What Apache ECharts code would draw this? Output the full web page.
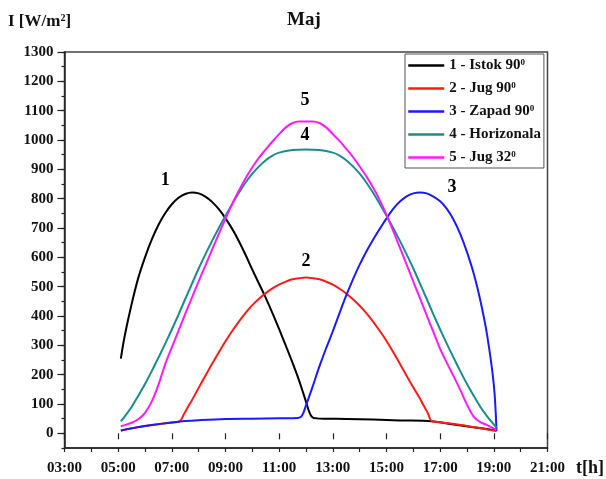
<!DOCTYPE html>
<html>
<head>
<meta charset="utf-8">
<script src="https://cdn.jsdelivr.net/npm/echarts@6/dist/echarts.min.js"></script>
<style>html,body{margin:0;padding:0;background:#fff}#c{width:606px;height:479px}</style>
</head>
<body>
<div id="c"></div>
<script>
// ---------- DATA ----------
const chartTitle = 'Maj';
const seriesNames = ['1 - Istok 90', '2 - Jug 90', '3 - Zapad 90', '4 - Horizonala', '5 - Jug 32'];
const seriesSup = ['0', '0', '0', '', '0'];
const seriesColors = ['#000000', '#ff1a1a', '#1a1aff', '#1a8c8c', '#ff1aff'];

const xTickHours = [3, 5, 7, 9, 11, 13, 15, 17, 19, 21];
const xTickLabels = ['03:00', '05:00', '07:00', '09:00', '11:00', '13:00', '15:00', '17:00', '19:00', '21:00'];
const yTickValues = [0, 100, 200, 300, 400, 500, 600, 700, 800, 900, 1000, 1100, 1200, 1300];

// 1 - Istok 90 (east)
const istokT = [5.1,5.25,5.5,5.75,6.0,6.25,6.5,6.75,7.0,7.25,7.5,7.75,8.0,8.25,8.5,8.75,9.0,9.25,9.5,9.75,10.0,10.25,10.5,10.75,11.0,11.25,11.5,11.75,12.0,12.15,12.25,12.4,12.75,13.5,14.5,15.5,16.68,17.5,18.3,19.1];
const istokV = [255,335,440,530,600,660,710,750,781,803,816,821,818,807,789,764,733,697,655,608,558,510,462,410,355,298,240,178,108,66,54,51,50,49,47,44,41,30,20,10];

// 2 - Jug 90 (south)
const jugT = [5.1,6.0,7.0,7.29,7.45,7.6,7.75,8.0,8.25,8.5,8.75,9.0,9.25,9.5,9.75,10.0,10.25,10.5,10.75,11.0,11.25,11.5,11.75,12.0,12.25,12.5,12.75,13.0,13.25,13.5,13.75,14.0,14.25,14.5,14.75,15.0,15.25,15.5,15.75,16.0,16.25,16.4,16.55,16.68,17.0,18.0,19.1];
const jugV = [10,25,37,41,65,90,113,155,196,237,276,314,349,381,411,437,459,478,494,507,517,525,529,531,529,525,517,507,493,477,457,435,410,381,349,315,277,237,196,156,118,92,67,42,38,25,8];

// 3 - Zapad 90 (west)
const zapadT = [5.1,5.5,6.0,6.5,7.0,7.5,8.0,9.0,10.0,11.0,11.7,11.85,12.0,12.25,12.5,12.75,13.0,13.25,13.5,13.75,14.0,14.25,14.5,14.75,15.0,15.25,15.5,15.75,16.0,16.25,16.5,16.75,17.0,17.25,17.5,17.75,18.0,18.25,18.5,18.75,19.0,19.1];
const zapadV = [10,17,25,31,37,42,45,49,50,51,52,60,95,160,228,290,348,410,470,525,575,620,660,697,733,765,790,808,818,821,818,807,791,765,728,679,618,545,452,335,165,8];

// 4 - Horizonala
const horT = [5.1,5.25,5.5,5.75,6.0,6.25,6.5,6.75,7.0,7.25,7.5,7.75,8.0,8.25,8.5,8.75,9.0,9.25,9.5,9.75,10.0,10.25,10.5,10.75,11.0,11.5,12.0,12.5,13.0,13.25,13.5,13.75,14.0,14.25,14.5,14.75,15.0,15.25,15.5,15.75,16.0,16.25,16.5,16.75,17.0,17.25,17.5,17.75,18.0,18.25,18.5,18.75,19.1];
const horV = [41,58,90,128,168,212,258,305,354,405,458,510,562,610,656,700,742,782,820,855,885,910,931,947,957,966,968,966,957,947,931,910,885,855,820,782,742,700,656,610,562,510,458,405,354,305,258,212,168,128,90,58,20];

// 5 - Jug 32
const jug32T = [5.1,5.25,5.5,5.75,6.0,6.25,6.5,6.75,7.0,7.25,7.5,7.75,8.0,8.25,8.5,8.75,9.0,9.25,9.5,9.75,10.0,10.25,10.5,10.75,11.0,11.25,11.5,11.75,12.0,12.25,12.5,12.75,13.0,13.25,13.5,13.75,14.0,14.25,14.5,14.75,15.0,15.25,15.5,15.75,16.0,16.25,16.5,16.75,17.0,17.25,17.5,17.75,18.0,18.25,18.5,18.75,19.1];
const jug32V = [24,28,36,48,70,108,165,235,293,350,407,463,518,572,626,680,732,782,828,870,907,940,968,995,1020,1043,1058,1063,1063,1063,1058,1043,1020,997,970,942,910,876,838,795,745,690,633,575,517,460,402,345,288,240,195,148,98,57,38,28,12];

// curve number annotations (data coordinates)
const curveLabelText = ['1', '2', '3', '4', '5'];
const curveLabelT = [6.75, 12.0, 17.44, 11.96, 11.96];
const curveLabelV = [864, 588, 840, 1017, 1136];

// ---------- CHART ----------
const FONT = '"Liberation Serif", "Times New Roman", serif';
const pair = (T, V) => T.map((t, i) => [t, V[i]]);
const allT = [istokT, jugT, zapadT, horT, jug32T];
const allV = [istokV, jugV, zapadV, horV, jug32V];

const lineSeries = seriesNames.map((n, i) => ({
  name: n,
  type: 'line',
  data: pair(allT[i], allV[i]),
  symbol: 'none',
  showSymbol: false,
  smooth: 0.35,
  lineStyle: { color: seriesColors[i], width: 2 },
  itemStyle: { color: seriesColors[i] },
  z: 2 + i
}));

const labelSeries = {
  name: 'labels',
  type: 'scatter',
  symbolSize: 0.1,
  itemStyle: { color: '#ffffff', opacity: 1 },
  data: curveLabelText.map((s, i) => [curveLabelT[i], curveLabelV[i], s]),
  label: {
    show: true, position: 'inside',
    formatter: p => p.data[2],
    fontFamily: FONT, fontWeight: 'bold', fontSize: 18, color: '#000', opacity: 1
  },
  silent: true,
  z: 10
};

const chart = echarts.init(document.getElementById('c'), null, { renderer: 'canvas' });
chart.setOption({
  animation: false,
  backgroundColor: '#fff',
  title: [
    { text: chartTitle, left: 282, top: 6, textStyle: { fontFamily: FONT, fontWeight: 'bold', fontSize: 19, color: '#111' } },
    { text: 'I [W/m{s|2}]', left: 3, top: 8,
      textStyle: { fontFamily: FONT, fontWeight: 'bold', fontSize: 17, color: '#111',
        rich: { s: { fontFamily: FONT, fontWeight: 'bold', fontSize: 10, verticalAlign: 'top', lineHeight: 10, color: '#111' } } } },
    { text: 't[h]', left: 571, top: 454, textStyle: { fontFamily: FONT, fontWeight: 'bold', fontSize: 18, color: '#111' } }
  ],
  grid: { left: 64.5, right: 58.5, top: 52, bottom: 31, show: true, borderColor: '#444', borderWidth: 1.5, containLabel: false },
  legend: {
    data: seriesNames,
    orient: 'vertical',
    left: 405, top: 54,
    itemWidth: 36, itemHeight: 14, itemGap: 8,
    padding: [4, 3, 3, 2],
    borderColor: '#555', borderWidth: 1,
    backgroundColor: '#fff',
    itemStyle: { opacity: 0 },
    lineStyle: { width: 2.5 },
    formatter: name => {
      const i = seriesNames.indexOf(name);
      return name + (seriesSup[i] ? '{s|' + seriesSup[i] + '}' : '');
    },
    textStyle: {
      fontFamily: FONT, fontWeight: 'bold', fontSize: 15, color: '#111',
      rich: { s: { fontFamily: FONT, fontWeight: 'bold', fontSize: 9, verticalAlign: 'top', lineHeight: 9, color: '#111' } }
    }
  },
  xAxis: [
    {
      type: 'value', min: 3, max: 21, interval: 1,
      axisLine: { show: true, onZero: false, lineStyle: { color: '#222', width: 1.5 } },
      axisTick: { show: true, inside: false, length: 4, lineStyle: { color: '#222', width: 1.2 } },
      axisLabel: { show: false },
      splitLine: { show: false }
    },
    {
      type: 'value', min: 3, max: 21, interval: 1, position: 'bottom',
      axisLine: { show: false },
      axisTick: { show: true, inside: false, length: 6, customValues: xTickHours, lineStyle: { color: '#222', width: 1.2 } },
      axisLabel: {
        customValues: xTickHours,
        formatter: v => { const i = xTickHours.indexOf(Math.round(v)); return i >= 0 ? xTickLabels[i] : ''; },
        fontFamily: FONT, fontWeight: 'bold', fontSize: 15, color: '#111', margin: 13
      },
      splitLine: { show: false }
    }
  ],
  yAxis: [
    {
      type: 'value', min: -50, max: 1300, interval: 50, position: 'left',
      axisLine: { show: true, onZero: false, lineStyle: { color: '#222', width: 1.5 } },
      axisTick: { show: true, inside: false, length: 3, lineStyle: { color: '#222', width: 1.2 } },
      axisLabel: { show: false },
      splitLine: { show: false }
    },
    {
      type: 'value', min: -50, max: 1300, interval: 50, position: 'left',
      axisLine: { show: false },
      axisTick: { show: true, inside: false, length: 7, customValues: yTickValues, lineStyle: { color: '#222', width: 1.2 } },
      axisLabel: { customValues: yTickValues, formatter: v => String(v), fontFamily: FONT, fontWeight: 'bold', fontSize: 15, color: '#111', margin: 11 },
      splitLine: { show: false }
    }
  ],
  series: [...lineSeries, labelSeries]
});
</script>
</body>
</html>
